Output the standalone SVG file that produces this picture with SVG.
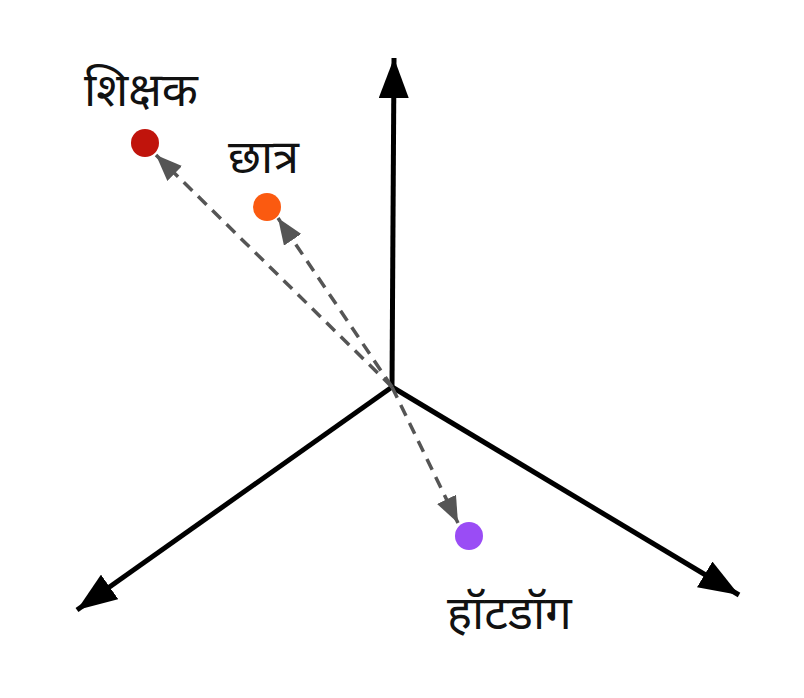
<svg xmlns="http://www.w3.org/2000/svg" width="804" height="698" viewBox="0 0 804 698">
<style>
.axis{stroke:#000;stroke-width:5;fill:none}
.vec{stroke:#555;stroke-width:3.5;fill:none;stroke-dasharray:12 8}
.lbl{font-family:"Noto Sans Devanagari","Noto Sans","Lohit Devanagari",sans-serif;font-size:47px;fill:#111}
</style>
<defs>
<marker id="ah" viewBox="0 0 10 10" refX="10" refY="5" markerWidth="8" markerHeight="6" markerUnits="strokeWidth" orient="auto" preserveAspectRatio="none"><path d="M0,0L10,5L0,10Z" fill="#000"/></marker>
<marker id="dh" viewBox="0 0 10 10" refX="10" refY="5" markerWidth="7.5" markerHeight="6" markerUnits="strokeWidth" orient="auto" preserveAspectRatio="none"><path d="M0,0L10,5L0,10Z" fill="#555"/></marker>
</defs>
<rect width="804" height="698" fill="#fff"/>
<g id="axes">
<line class="axis" x1="392" y1="387" x2="394" y2="58" marker-end="url(#ah)"/>
<line class="axis" x1="392" y1="387" x2="77" y2="610" marker-end="url(#ah)"/>
<line class="axis" x1="392" y1="387" x2="739" y2="595" marker-end="url(#ah)"/>
</g>
<g id="connectors">
<line class="vec" x1="392" y1="387" x2="156" y2="155" marker-end="url(#dh)"/>
<line class="vec" x1="392" y1="387" x2="278" y2="218" marker-end="url(#dh)"/>
<line class="vec" x1="392" y1="387" x2="458" y2="523" marker-end="url(#dh)"/>
</g>
<g id="teacher"><circle cx="145" cy="143" r="14" fill="#c0140c"/><text class="lbl" x="84" y="106">शिक्षक</text></g>
<g id="student"><circle cx="267" cy="207" r="14" fill="#fb5a10"/><text class="lbl" x="228" y="173">छात्र</text></g>
<g id="hotdog"><circle cx="469" cy="536" r="14" fill="#9a4cf5"/><text class="lbl" x="447" y="629">हॉटडॉग</text></g>
</svg>
